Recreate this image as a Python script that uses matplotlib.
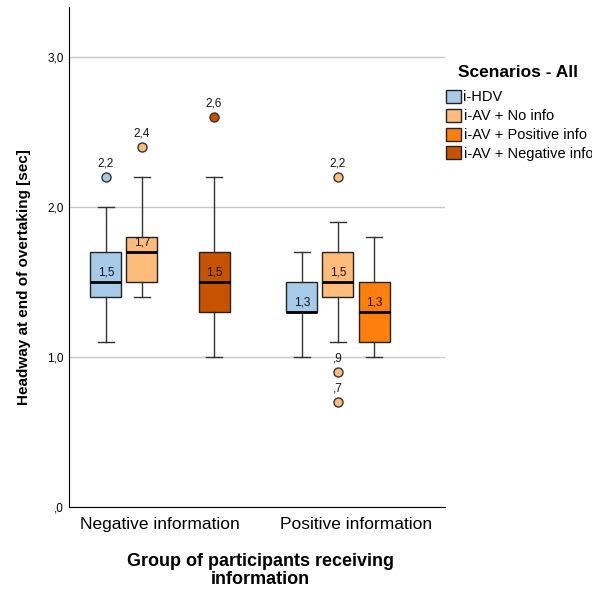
import matplotlib
matplotlib.use("Agg")
import matplotlib.pyplot as plt
from matplotlib.patches import Patch

plt.rcParams['font.family'] = ['Liberation Sans', 'DejaVu Sans']

groups = ["Negative information", "Positive information"]
scenarios = ["i-HDV", "i-AV + No info", "i-AV + Positive info", "i-AV + Negative info"]
colors = ["#a6cbe8", "#ffbb7a", "#ff7f0e", "#c75300"]

# stats per (group, scenario): whislo, q1, med, q3, whishi, outliers ; None = absent
neg_stats = [
    (1.1, 1.4, 1.5, 1.7, 2.0, [2.2]),
    (1.4, 1.5, 1.7, 1.8, 2.2, [2.4]),
    None,
    (1.0, 1.3, 1.5, 1.7, 2.2, [2.6]),
]
pos_stats = [
    (1.0, 1.3, 1.3, 1.5, 1.7, []),
    (1.1, 1.4, 1.5, 1.7, 1.9, [2.2, 0.9, 0.7]),
    (1.0, 1.1, 1.3, 1.5, 1.8, []),
    None,
]
yticks = [0.0, 1.0, 2.0, 3.0]
ytick_labels = [",0", "1,0", "2,0", "3,0"]


def fmt(v):
    s = f"{v:.1f}".replace(".", ",")
    if s.startswith("0"):
        s = s[1:]
    return s


fig = plt.figure(figsize=(5.92, 5.89), dpi=100)
ax = fig.add_axes([69/592, 1-507/589, (445-69)/592, (507-7)/589])

offsets = [-0.276, -0.092, 0.092, 0.276]
width = 0.158
for gi, stats_list in enumerate([neg_stats, pos_stats]):
    for si, st in enumerate(stats_list):
        if st is None:
            continue
        lo, q1, med, q3, hi, fl = st
        pos = gi + offsets[si]
        d = dict(whislo=lo, q1=q1, med=med, q3=q3, whishi=hi, fliers=fl)
        ax.bxp([d], positions=[pos], widths=width, patch_artist=True,
               showfliers=True,
               boxprops=dict(facecolor=colors[si], edgecolor="#222222", linewidth=1.0),
               medianprops=dict(color="black", linewidth=2.0),
               whiskerprops=dict(color="#333333", linewidth=1.0),
               capprops=dict(color="#333333", linewidth=1.0),
               capwidths=width*0.5,
               flierprops=dict(marker="o", markerfacecolor=colors[si],
                               markeredgecolor="#333333", markersize=6.5,
                               markeredgewidth=1.0))
        ax.text(pos, med + 0.02, fmt(med), ha="center", va="bottom", fontsize=8.5, color="#111111")
        for f in fl:
            ax.text(pos, f + 0.05, fmt(f), ha="center", va="bottom", fontsize=8.5, color="#111111")

ax.set_xlim(-0.464, 1.454)
ax.set_ylim(0, 3.333)
ax.set_yticks(yticks)
ax.set_yticklabels(ytick_labels, fontsize=8.5)
ax.set_xticks([0, 1])
ax.set_xticklabels(groups, fontsize=12.5)
ax.tick_params(axis="x", length=0, pad=7)
ax.tick_params(axis="y", length=0, pad=4)
ax.yaxis.grid(True, color="#c8c8c8", linewidth=1.0)
ax.set_axisbelow(True)
for s in ["top", "right"]:
    ax.spines[s].set_visible(False)
ax.spines["left"].set_color("black")
ax.spines["bottom"].set_color("black")

ax.set_ylabel("Headway at end of overtaking [sec]", fontsize=11, fontweight="bold")
ax.yaxis.set_label_coords(-0.101, 0.46)
ax.set_xlabel("Group of participants receiving\ninformation", fontsize=13, fontweight="bold",
              linespacing=1.0)
ax.xaxis.set_label_coords(0.508, -0.093)

handles = [Patch(facecolor=c, edgecolor="#222222", linewidth=1.0, label=l) for c, l in zip(colors, scenarios)]
leg = fig.legend(handles=handles, loc="upper left", bbox_to_anchor=(446/592, 1-65/589),
                 frameon=False, fontsize=10.5, title="Scenarios - All",
                 title_fontproperties=dict(weight="bold", size=12.5),
                 handlelength=1.0, handleheight=1.0, handletextpad=0.2,
                 labelspacing=0.3, borderaxespad=0, borderpad=0)
leg._legend_box.align = "left"
leg._legend_box.sep = 7
leg.get_title().set_position((12, 0))

fig.savefig("out.png", dpi=100)
